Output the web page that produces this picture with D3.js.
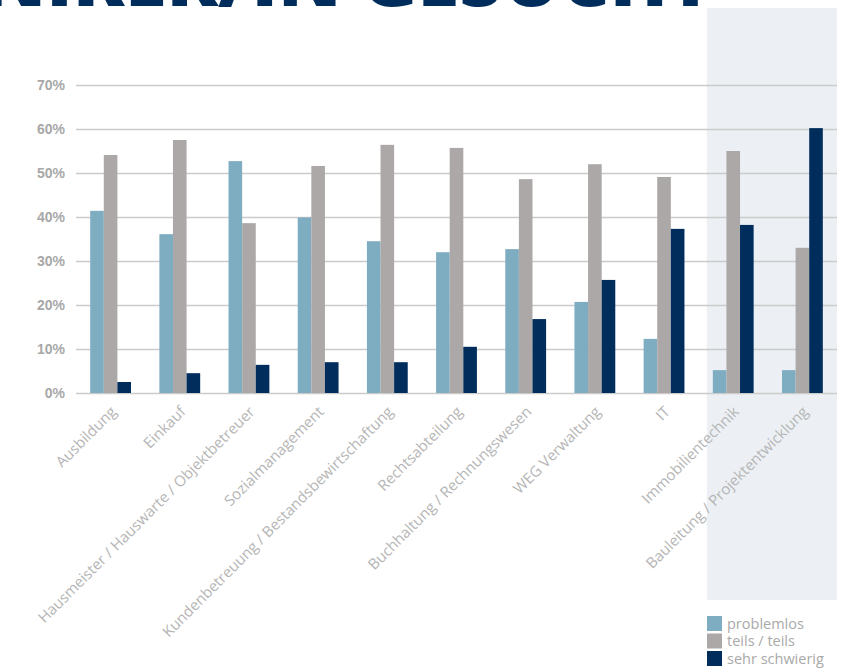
<!DOCTYPE html>
<html>
<head>
<meta charset="utf-8">
<script src="https://cdn.jsdelivr.net/npm/d3@7"></script>
<style>
  html, body { margin: 0; padding: 0; background: #fff; }
  svg { display: block; font-family: "Open Sans", "Noto Sans", sans-serif; }
</style>
</head>
<body>
<svg id="chart" width="852" height="670"></svg>
<script>
;(function (window, document, undefined) {

  'use strict';

  var categories = [
    'Ausbildung',
    'Einkauf',
    'Hausmeister / Hauswarte / Objektbetreuer',
    'Sozialmanagement',
    'Kundenbetreuung / Bestandsbewirtschaftung',
    'Rechtsabteilung',
    'Buchhaltung / Rechnungswesen',
    'WEG Verwaltung',
    'IT',
    'Immobilientechnik',
    'Bauleitung / Projektentwicklung'
  ];

  var problemlos = [41.4, 36.1, 52.7, 39.9, 34.5, 32.0, 32.7, 20.7, 12.3, 5.2, 5.2];
  var teils      = [54.1, 57.5, 38.6, 51.6, 56.4, 55.7, 48.6, 52.0, 49.1, 55.0, 33.0];
  var schwierig  = [2.5, 4.5, 6.4, 7.0, 7.0, 10.5, 16.8, 25.7, 37.3, 38.2, 60.2];

  var seriesNames = ['problemlos', 'teils / teils', 'sehr schwierig'];
  var yTicks = [0, 10, 20, 30, 40, 50, 60, 70];
  var highlighted = ['Immobilientechnik', 'Bauleitung / Projektentwicklung'];

  var colors = ['#7eadc2', '#aba8a7', '#002d5b'];

  var svg = d3.select('#chart');

  var x = d3.scaleBand()
    .domain(categories)
    .range([76, 837])
    .paddingInner(0.41)
    .paddingOuter(0.205);

  var xSub = d3.scaleBand()
    .domain(seriesNames)
    .range([0, x.bandwidth()]);

  var y = d3.scaleLinear()
    .domain([0, 70])
    .range([393, 85]);

  // shaded panel behind the last two groups
  svg.append('rect')
    .attr('x', x(highlighted[0]) - 6)
    .attr('y', 8)
    .attr('width', 837 - (x(highlighted[0]) - 6))
    .attr('height', 592)
    .attr('fill', '#ecf0f4');

  // title, cut off at the top of the page
  svg.append('text')
    .attr('x', 713)
    .attr('y', 6)
    .attr('text-anchor', 'end')
    .attr('fill', '#002d5b')
    .style('font-weight', 800)
    .style('font-size', '76px')
    .text('TECHNIKER/IN GESUCHT');

  // grid + y labels
  var yAxis = d3.axisLeft(y)
    .tickValues(yTicks)
    .tickSize(-(837 - 76))
    .tickPadding(11)
    .tickFormat(function (d) { return d + '%'; });

  var gy = svg.append('g')
    .attr('transform', 'translate(76,0)')
    .call(yAxis);

  gy.select('.domain').remove();
  gy.selectAll('.tick line')
    .attr('stroke', '#cbcbcb')
    .attr('stroke-width', 1.4);
  gy.selectAll('.tick text')
    .attr('fill', '#a8a8a8')
    .style('font-size', '14px')
    .style('font-weight', 600);

  var rows = categories.map(function (c, i) {
    return { cat: c, values: [problemlos[i], teils[i], schwierig[i]] };
  });

  var groups = svg.append('g')
    .selectAll('g')
    .data(rows)
    .join('g')
    .attr('transform', function (d) { return 'translate(' + x(d.cat) + ',0)'; });

  groups.selectAll('rect')
    .data(function (d) {
      return d.values.map(function (v, j) { return { key: seriesNames[j], v: v, j: j }; });
    })
    .join('rect')
    .attr('x', function (d) { return xSub(d.key); })
    .attr('width', xSub.bandwidth())
    .attr('y', function (d) { return y(d.v); })
    .attr('height', function (d) { return y(0) - y(d.v); })
    .attr('fill', function (d) { return colors[d.j]; });

  // x labels, rotated
  svg.append('g')
    .selectAll('text')
    .data(categories)
    .join('text')
    .attr('transform', function (d) {
      return 'translate(' + (x(d) + x.bandwidth() / 2 + 3) + ',409) rotate(-45)';
    })
    .attr('dy', '0.35em')
    .attr('text-anchor', 'end')
    .attr('fill', '#b5b5b5')
    .style('font-size', '15px')
    .text(function (d) { return d; });

  // legend
  var legend = svg.append('g')
    .attr('transform', 'translate(707,616)');

  var items = legend.selectAll('g')
    .data(seriesNames)
    .join('g')
    .attr('transform', function (d, i) { return 'translate(0,' + (i * 17.5) + ')'; });

  items.append('rect')
    .attr('width', 15)
    .attr('height', 15)
    .attr('fill', function (d, i) { return colors[i]; });

  items.append('text')
    .attr('x', 20)
    .attr('y', 7.5)
    .attr('dy', '0.35em')
    .attr('fill', '#a9a9a9')
    .style('font-size', '14.5px')
    .text(function (d) { return d; });

})(window, document);
</script>
</body>
</html>
